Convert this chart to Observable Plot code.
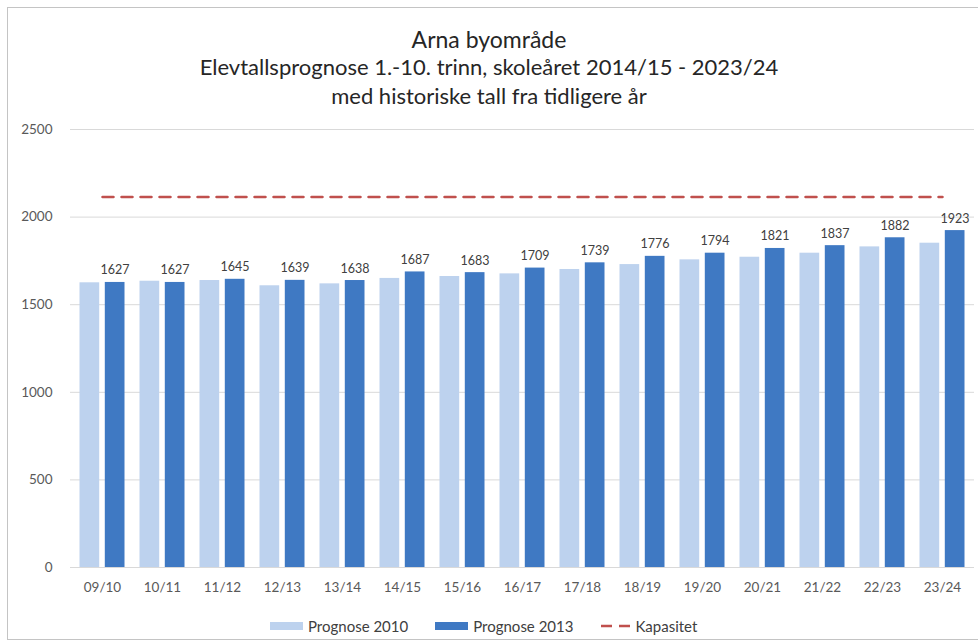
<!DOCTYPE html>
<html>
<head>
<meta charset="utf-8">
<script src="https://cdn.jsdelivr.net/npm/d3@7"></script>
<script src="https://cdn.jsdelivr.net/npm/@observablehq/plot@0.6"></script>
<style>
  html, body { margin: 0; padding: 0; background: #fff; }
  body { width: 978px; height: 644px; position: relative; overflow: hidden; font-family: Lato, "Open Sans", sans-serif; }
  #frame { position: absolute; left: 7px; top: 7px; width: 990px; height: 633px; border-top: 1px solid #c4c4c4; border-left: 1px solid #c4c4c4; border-bottom: 1px solid #c4c4c4; box-sizing: border-box; }
  .t { position: absolute; left: 0; width: 978px; text-align: center; color: #262626; white-space: nowrap; }
  #t1 { top: 25px; font-size: 23px; line-height: 28px; }
  #t2 { top: 54px; font-size: 22px; line-height: 26px; }
  #t3 { top: 83px; font-size: 22px; line-height: 26px; }
  #chart { position: absolute; left: 0; top: 110px; }
  #legend { position: absolute; left: 270px; top: 617px; display: flex; align-items: center; font-size: 15px; color: #404040; white-space: nowrap; }
  .item { display: flex; align-items: center; margin-right: 27px; }
  .sw { width: 33px; height: 8px; margin-right: 5px; }
</style>
</head>
<body>
<div id="frame"></div>
<div class="t" id="t1">Arna byområde</div>
<div class="t" id="t2">Elevtallsprognose 1.-10. trinn, skoleåret 2014/15 - 2023/24</div>
<div class="t" id="t3">med historiske tall fra tidligere år</div>
<div id="chart"></div>
<div id="legend"></div>
<script>
const categories = ["09/10","10/11","11/12","12/13","13/14","14/15","15/16","16/17","17/18","18/19","19/20","20/21","21/22","22/23","23/24"];
const prognose2010 = [1625,1634,1638,1608,1619,1650,1661,1676,1701,1729,1756,1771,1794,1830,1851];
const prognose2013 = [1627,1627,1645,1639,1638,1687,1683,1709,1739,1776,1794,1821,1837,1882,1923];
const kapasitet = [2115,2115,2115,2115,2115,2115,2115,2115,2115,2115,2115,2115,2115,2115,2115];
const yTicks = [0,500,1000,1500,2000,2500];
const seriesNames = ["Prognose 2010","Prognose 2013","Kapasitet"];

const colors = {light: "#bdd2ee", dark: "#3f79c3", red: "#c0504d"};

const rows = categories.map((c, i) => ({cat: c, p2010: prognose2010[i], p2013: prognose2013[i], kap: kapasitet[i]}));

const chart = Plot.plot({
  width: 978,
  height: 500,
  marginLeft: 70,
  marginRight: 4,
  marginTop: 19,
  marginBottom: 43,
  style: {fontFamily: "Lato, 'Open Sans', sans-serif", fontSize: "13.5px", color: "#595959", background: "transparent"},
  x: {type: "band", domain: categories, padding: 0, label: null, tickSize: 0, tickPadding: 15},
  y: {domain: [0, 2500], ticks: yTicks, tickFormat: d => String(d), label: null, tickSize: 0, tickPadding: 18},
  marks: [
    Plot.ruleY(yTicks, {stroke: "#d9d9d9", strokeWidth: 1}),
    Plot.barY(rows, {x: "cat", y: "p2010", fill: colors.light, insetLeft: 7.5, insetRight: 32.8}),
    Plot.barY(rows, {x: "cat", y: "p2013", fill: colors.dark, insetLeft: 32.8, insetRight: 7.5}),
    Plot.lineY(rows, {x: "cat", y: "kap", stroke: colors.red, strokeWidth: 2.5, strokeDasharray: "11,8"}),
    Plot.text(rows, {x: "cat", y: "p2013", text: d => String(d.p2013), dx: 12.6, dy: -8, lineAnchor: "bottom", fill: "#404040", fontSize: 12.5})
  ]
});
document.getElementById("chart").appendChild(chart);

const legend = document.getElementById("legend");
const swatches = [
  `<div class="sw" style="background:${colors.light}"></div>`,
  `<div class="sw" style="background:${colors.dark}"></div>`,
  `<svg width="30" height="8" style="margin-right:5px"><line x1="1" y1="4" x2="30" y2="4" stroke="${colors.red}" stroke-width="2.5" stroke-dasharray="11,7"/></svg>`
];
seriesNames.forEach((name, i) => {
  const it = document.createElement("div");
  it.className = "item";
  it.innerHTML = swatches[i] + `<span>${name}</span>`;
  legend.appendChild(it);
});
</script>
</body>
</html>
